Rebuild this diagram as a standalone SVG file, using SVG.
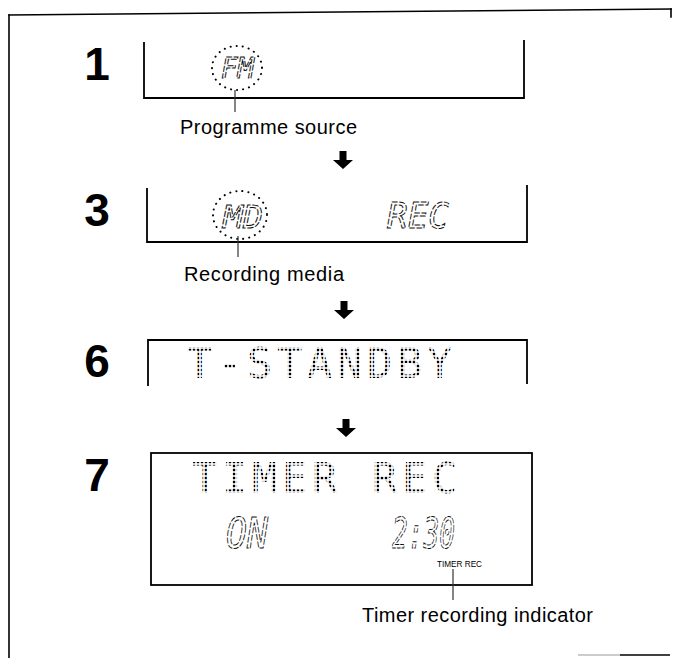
<svg xmlns="http://www.w3.org/2000/svg" width="673" height="658" viewBox="0 0 673 658">
<style>
.frame{stroke:#000;stroke-width:1.6;fill:none;stroke-linecap:square}
.panel{stroke:#000;stroke-width:1.8;fill:none}
.num{font-family:"Liberation Sans",Arial,sans-serif;font-weight:bold;font-size:46px;text-anchor:middle;fill:#000}
.lbl{font-family:"Liberation Sans",Arial,sans-serif;font-size:20px;fill:#000}
.small{font-family:"Liberation Sans",Arial,sans-serif;font-size:8.5px;fill:#000}
.seg{font-family:"DejaVu Sans Mono",monospace;font-style:italic;fill:none;stroke:#111;stroke-width:1;stroke-dasharray:6 1.6}
.dm{font-family:"DejaVu Sans Mono",monospace;font-size:42px;fill:url(#dots);letter-spacing:4.7px}
.ring{fill:none;stroke:#000;stroke-width:2;stroke-linecap:round;stroke-dasharray:0.1 6}
.lead{stroke:#333;stroke-width:1.2}
</style>
<defs>
<pattern id="dots" width="4" height="4" patternUnits="userSpaceOnUse">
<rect x="0.8" y="0.8" width="2.4" height="2.4" fill="#000"/>
</pattern>
<path id="arrow" d="M-3.5,0 H3.5 V9 H10 L0,18 L-10,9 H-3.5 Z" fill="#000"/>
</defs>
<rect width="673" height="658" fill="#fff"/>
<g id="frame">
<line class="frame" x1="9" y1="15" x2="671" y2="9"/>
<line class="frame" x1="9" y1="15" x2="9" y2="658"/>
<line class="frame" x1="671" y1="9" x2="671" y2="17"/>
<line x1="578" y1="655" x2="620" y2="655" stroke="#999" stroke-width="1.2"/>
<line x1="620" y1="655" x2="670" y2="655" stroke="#000" stroke-width="1.6"/>
</g>
<g id="step1">
<text class="num" x="97" y="80">1</text>
<path class="panel" d="M144,42 V98 H524 V40"/>
<ellipse class="ring" cx="237" cy="68" rx="25" ry="22"/>
<text class="seg" x="221" y="78" font-size="28" textLength="33" lengthAdjust="spacingAndGlyphs">FM</text>
<text class="lbl" x="180" y="134" textLength="177" lengthAdjust="spacing">Programme source</text>
</g>
<g id="step3">
<text class="num" x="97" y="226">3</text>
<path class="panel" d="M147,188 V242 H527 V185"/>
<ellipse class="ring" cx="240" cy="215" rx="27" ry="24"/>
<text class="seg" x="223" y="228" font-size="32" textLength="40" lengthAdjust="spacingAndGlyphs">MD</text>
<text class="seg" x="387" y="228" font-size="36" textLength="62" lengthAdjust="spacingAndGlyphs">REC</text>
<text class="lbl" x="184" y="281" textLength="160" lengthAdjust="spacing">Recording media</text>
</g>
<g id="step6">
<text class="num" x="97" y="377">6</text>
<path class="panel" d="M148,386 V340 H527 V384"/>
<text class="dm" x="187" y="378">T-STANDBY</text>
</g>
<g id="step7">
<text class="num" x="97" y="491">7</text>
<rect class="panel" x="151" y="453" width="381" height="132"/>
<text class="dm" x="192" y="493">TIMER REC</text>
<text class="seg" x="226" y="548" font-size="42" textLength="42" lengthAdjust="spacingAndGlyphs">ON</text>
<text class="seg" x="392" y="548" font-size="42" textLength="63" lengthAdjust="spacingAndGlyphs">2:30</text>
<text class="small" x="437" y="567" textLength="45" lengthAdjust="spacingAndGlyphs">TIMER REC</text>
<text class="lbl" x="362" y="622" textLength="231" lengthAdjust="spacing">Timer recording indicator</text>
</g>
<g id="connectors">
<line class="lead" x1="235" y1="90" x2="235" y2="112"/>
<line class="lead" x1="238" y1="236" x2="238" y2="257"/>
<line class="lead" x1="453" y1="569" x2="453" y2="600"/>
<use href="#arrow" x="343" y="151"/>
<use href="#arrow" x="344" y="301"/>
<use href="#arrow" x="346" y="419"/>
</g>
</svg>
